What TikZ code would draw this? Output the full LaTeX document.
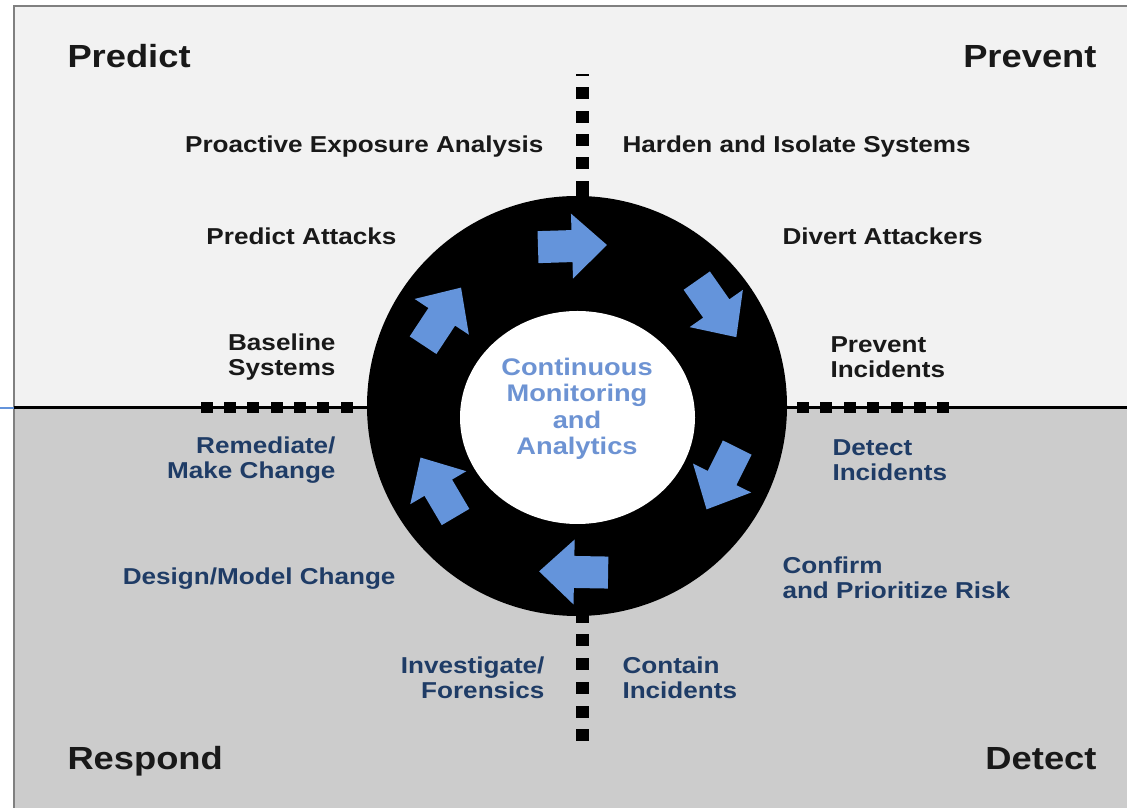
\documentclass[tikz,border=0pt]{standalone}
\usepackage{fontspec}
\setmainfont[FakeStretch=1.135]{Liberation Sans}
\tikzset{
every picture/.style={
line width=1pt
}}
\definecolor{arrowblue}{HTML}{6494DB}
\definecolor{centreblue}{HTML}{6D93D3}
\definecolor{darkblue}{HTML}{1F3C66}
\definecolor{upperbg}{HTML}{F2F2F2}
\definecolor{lowerbg}{HTML}{CCCCCC}

\begin{document}
\begin{tikzpicture}[x=1pt, y=1pt,
phase/.style = {font=\fontsize{32}{34}\selectfont\bfseries, text=black!90, inner sep=0pt},
task/.style = {font=\fontsize{23}{25}\selectfont\bfseries, text=black!90, inner sep=0pt},
darktask/.style = {task, text=darkblue},
cyclearrow/.style = {fill=arrowblue}]

\useasboundingbox (0,0) rectangle (1127,808);

% two halves: upper = predict/prevent, lower = respond/detect
\fill [upperbg] (14,400) rectangle (1127,802);
\fill [lowerbg] (14,0) rectangle (1127,400);
\draw [gray, line width=1.5] (14,0) -- (14,802) -- (1127,802);
\draw [arrowblue, line width=2] (0,400) -- (14,400);
\draw [line width=3] (14,400) -- (1127,400);

% square marks along the axes
\foreach \x in {207,230,253,277,300,323,347,803,826,850,873,897,920,943}
  \fill (\x-6,394.5) rectangle ++(12,11);
\foreach \y in {93,117,140,163,640,664,688,712,735}
  \fill (575.5,808-\y-6) rectangle ++(13,12);
\fill (575.5,732) rectangle ++(13,1.5);
\fill (575.5,606) rectangle (588.5,627);
\fill (575.5,185) rectangle (588.5,197);

% ring
\fill (577,402) circle (210);
\fill [white] (577.5,390.5) ellipse (117.5 and 106.5);

\begin{scope}[shift={(577,402)}]
\foreach \a/\r in {91.8/160, 35/170, -26.4/162, -91/166, 210.5/161, 146.6/162}
  \fill [cyclearrow, shift={(\a:\r)}, rotate={\a-90}]
    (-34,-16) -- (0,-16) -- (0,-32.5) -- (35,0) -- (0,32.5) -- (0,16) -- (-34,16) -- cycle;
\end{scope}

\node [align=center, inner sep=0pt, text=centreblue,
  font=\fontsize{24}{26.5}\selectfont\bfseries] (cma) at (577,399)
  {Continuous\\Monitoring\\and\\Analytics};

% phases
\node [phase, anchor=base west] (predict) at (67,740) {Predict};
\node [phase, anchor=base east] (prevent) at (1097,740) {Prevent};
\node [phase, anchor=base west] (respond) at (67,38) {Respond};
\node [phase, anchor=base east] (detect) at (1097,38) {Detect};

% steps
\node [task, anchor=base east] (pea) at (544,655) {Proactive Exposure Analysis};
\node [task, anchor=base west] (his) at (622,655) {Harden and Isolate Systems};
\node [task, anchor=base east] (pa) at (397,563) {Predict Attacks};
\node [task, anchor=base west] (da) at (782,563) {Divert Attackers};
\node [task, anchor=east, align=right] (bs) at (336,451) {Baseline\\Systems};
\node [task, anchor=west, align=left] (pi) at (830,451) {Prevent\\Incidents};

\node [darktask, anchor=east, align=right] (rmc) at (336,348) {Remediate/\\Make Change};
\node [darktask, anchor=west, align=left] (di) at (832,348) {Detect\\Incidents};
\node [darktask, anchor=base east] (dmc) at (396,223) {Design/Model Change};
\node [darktask, anchor=west, align=left] (cpr) at (782,230) {Confirm\\and Prioritize Risk};
\node [darktask, anchor=east, align=right] (if) at (545,130) {Investigate/\\Forensics};
\node [darktask, anchor=west, align=left] (ci) at (622,130) {Contain\\Incidents};

\end{tikzpicture}
\end{document}
